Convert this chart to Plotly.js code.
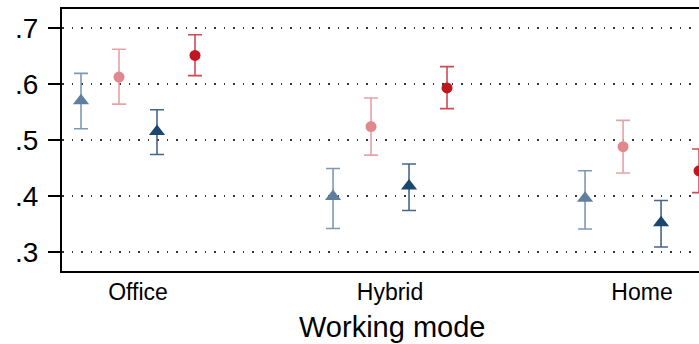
<!DOCTYPE html>
<html>
<head>
<meta charset="utf-8">
<script src="https://cdn.plot.ly/plotly-3.0.1.min.js"></script>
<style>html,body{margin:0;padding:0;background:#fff;overflow:hidden;}</style>
</head>
<body>
<div id="chart" style="width:699px;height:344px;"></div>
<script>
const categories = ["Office", "Hybrid", "Home"];
const seriesNames = ["Series A", "Series B", "Series C", "Series D"];

const valuesA = [0.570, 0.399, 0.396];
const upperA  = [0.619, 0.449, 0.445];
const lowerA  = [0.520, 0.342, 0.341];

const valuesB = [0.6125, 0.524, 0.488];
const upperB  = [0.662, 0.575, 0.535];
const lowerB  = [0.564, 0.473, 0.441];

const valuesC = [0.515, 0.418, 0.352];
const upperC  = [0.554, 0.457, 0.392];
const lowerC  = [0.474, 0.374, 0.309];

const valuesD = [0.651, 0.593, 0.445];
const upperD  = [0.688, 0.631, 0.484];
const lowerD  = [0.615, 0.556, 0.406];

const yTickVals = [0.3, 0.4, 0.5, 0.6, 0.7];
const yTickText = [".3", ".4", ".5", ".6", ".7"];
const xTitle = "Working mode";

function mk(name, vals, up, lo, symbol, size, color, barColor) {
  return {
    type: "scatter", mode: "markers", name: name,
    x: categories, y: vals,
    marker: {symbol: symbol, size: size, color: color},
    error_y: {
      type: "data", symmetric: false,
      array: up.map((u, i) => u - vals[i]),
      arrayminus: lo.map((l, i) => vals[i] - l),
      color: barColor, thickness: 1.6, width: 7
    },
    cliponaxis: true, hoverinfo: "x+y"
  };
}

const data = [
  mk(seriesNames[0], valuesA, upperA, lowerA, "triangle-up", 14, "#5f7f9f", "#7d99b4"),
  mk(seriesNames[1], valuesB, upperB, lowerB, "circle", 11, "#e0888d", "#e8a2a6"),
  mk(seriesNames[2], valuesC, upperC, lowerC, "triangle-up", 14, "#1b4670", "#45678a"),
  mk(seriesNames[3], valuesD, upperD, lowerD, "circle", 11, "#c0161f", "#cc4b53")
];

const layout = {
  width: 699, height: 344,
  margin: {l: 62, r: 0, t: 9, b: 73},
  paper_bgcolor: "#fff", plot_bgcolor: "#fff",
  showlegend: false,
  scattermode: "group", scattergap: 0.397,
  font: {family: "Liberation Sans, Arial, sans-serif", color: "#000"},
  xaxis: {
    type: "category", range: [-0.3016, 2.226],
    showline: true, mirror: true, linecolor: "#000", linewidth: 2,
    ticks: "", showgrid: false, zeroline: false,
    tickfont: {size: 23, color: "#000"}, ticklabelstandoff: -1
  },
  yaxis: {
    range: [0.266, 0.734], tickvals: yTickVals, ticktext: yTickText,
    showline: true, mirror: false, linecolor: "#000", linewidth: 2,
    ticks: "outside", ticklen: 12, tickwidth: 1.5, tickcolor: "#000",
    tickfont: {size: 28, color: "#000"}, ticklabelstandoff: 4,
    showgrid: true, gridcolor: "#333", gridwidth: 1.5, griddash: "1.5px,8px",
    zeroline: false
  },
  annotations: [{
    text: xTitle, xref: "paper", yref: "paper", x: 0.518, y: 0,
    xanchor: "center", yanchor: "top", yshift: -38, showarrow: false,
    font: {size: 29, color: "#000"}
  }]
};

Plotly.newPlot("chart", data, layout, {displayModeBar: false, staticPlot: true});
</script>
</body>
</html>
